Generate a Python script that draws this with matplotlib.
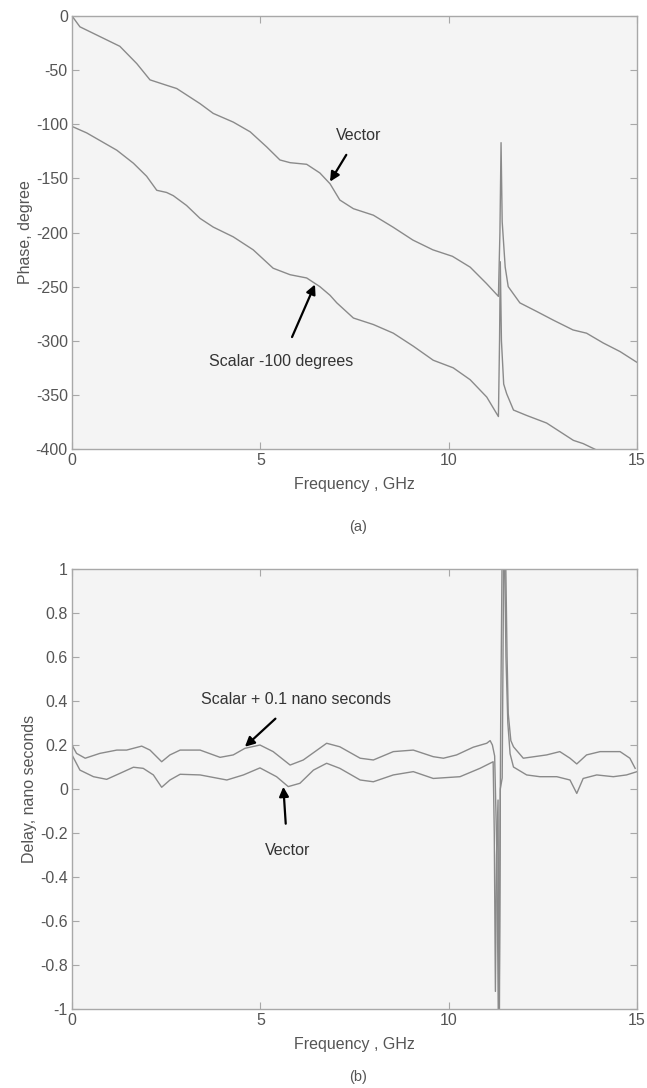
import matplotlib
matplotlib.use("Agg")
import matplotlib.pyplot as plt

# ---------------- data (a) phase ----------------
vec_f = [0, 0.21, 0.74, 1.27, 1.72, 2.07, 2.51, 2.78, 3.40, 3.75, 4.28, 4.73, 5.17, 5.52, 5.79,
         6.23, 6.58, 6.85, 7.11, 7.47, 8.0, 8.52, 9.05, 9.58, 10.1, 10.57, 11.0, 11.32, 11.36,
         11.39, 11.42, 11.5, 11.58, 11.89, 12.34, 12.78, 13.3, 13.66, 14.1, 14.55, 15.0]
vec_ph = [0, -10, -19, -28, -44, -59, -64, -67, -81, -90, -98, -107, -121, -133, -135.5,
          -137, -145, -155, -170, -178, -184, -195, -207, -216, -222, -232, -247, -259, -200,
          -117, -190, -232, -250, -265, -273, -281, -290, -293, -302, -310, -320]

sc_f = [0, 0.39, 0.74, 1.19, 1.63, 1.98, 2.25, 2.51, 2.69, 3.04, 3.40, 3.75, 4.28, 4.81, 5.34,
        5.79, 6.23, 6.58, 6.85, 7.03, 7.47, 8.0, 8.53, 9.06, 9.59, 10.12, 10.57, 11.01, 11.32,
        11.35, 11.37, 11.40, 11.46, 11.54, 11.72, 12.07, 12.6, 13.31, 13.57, 13.93, 14.5, 15.0]
sc_ph = [-102, -108, -115, -124, -136, -148, -161, -163, -166, -175, -187, -195, -204, -216, -233,
         -239, -242, -250, -258, -265, -279, -285, -293, -305, -318, -325, -336, -352, -370,
         -300, -227, -300, -340, -349, -364, -369, -376, -392, -395, -401, -412, -422]

# ---------------- data (b) delay ----------------
bv_f = [0, 0.21, 0.57, 0.92, 1.27, 1.63, 1.89, 2.16, 2.38, 2.6, 2.87, 3.4, 4.11, 4.55, 4.99,
        5.43, 5.74, 6.05, 6.41, 6.76, 7.11, 7.65, 8.0, 8.53, 9.06, 9.59, 10.3, 10.83, 11.18,
        11.21, 11.24, 11.27, 11.31, 11.34, 11.37, 11.42, 11.47, 11.52, 11.57, 11.63, 11.72,
        12.07, 12.42, 12.87, 13.22, 13.4, 13.57, 13.93, 14.37, 14.72, 15.0]
bv_d = [0.155, 0.086, 0.056, 0.044, 0.071, 0.099, 0.094, 0.064, 0.008, 0.041, 0.067, 0.064,
        0.041, 0.064, 0.096, 0.056, 0.011, 0.026, 0.086, 0.117, 0.094, 0.041, 0.033, 0.064,
        0.079, 0.048, 0.056, 0.094, 0.124, -0.2, -0.92, -0.3, -0.05, -1.3, 0.0, 0.05, 1.3,
        0.6, 0.3, 0.16, 0.10, 0.064, 0.056, 0.056, 0.041, -0.02, 0.048, 0.064, 0.056, 0.064, 0.079]

bs_f = [0, 0.12, 0.35, 0.74, 1.19, 1.45, 1.85, 2.07, 2.38, 2.6, 2.87, 3.4, 3.93, 4.28, 4.59,
        4.99, 5.34, 5.79, 6.14, 6.76, 7.11, 7.65, 8.0, 8.53, 9.06, 9.59, 9.86, 10.21, 10.65,
        11.01, 11.1, 11.16, 11.22, 11.28, 11.33, 11.38, 11.43, 11.5, 11.55, 11.58, 11.65,
        11.72, 11.98, 12.6, 12.95, 13.22, 13.4, 13.66, 14.02, 14.55, 14.81, 14.95]
bs_d = [0.20, 0.162, 0.14, 0.162, 0.177, 0.177, 0.195, 0.177, 0.124, 0.155, 0.177, 0.177,
        0.144, 0.155, 0.185, 0.2, 0.17, 0.109, 0.132, 0.208, 0.192, 0.14, 0.132, 0.17, 0.177,
        0.147, 0.14, 0.155, 0.19, 0.208, 0.22, 0.2, 0.15, -0.3, -1.3, 0.3, 1.3, 1.2, 0.6,
        0.344, 0.22, 0.192, 0.14, 0.155, 0.17, 0.14, 0.114, 0.155, 0.17, 0.17, 0.14, 0.094]

x_ticks = [0, 5, 10, 15]
ph_ticks = [0, -50, -100, -150, -200, -250, -300, -350, -400]
d_ticks = [1, 0.8, 0.6, 0.4, 0.2, 0, -0.2, -0.4, -0.6, -0.8, -1]
d_tick_labels = ['1', '0.8', '0.6', '0.4', '0.2', '0', '-0.2', '-0.4', '-0.6', '-0.8', '-1']

plt.rcParams['font.family'] = ['Liberation Sans', 'DejaVu Sans']
plt.rcParams['axes.unicode_minus'] = False

LINE = '#8a8a8a'
SPINE = '#a8a8a8'
TICKC = '#555555'
BG = '#f4f4f4'
FS = 11.5

fig = plt.figure(figsize=(6.47, 10.88), dpi=100)
ax1 = fig.add_axes([0.1113, 0.5873, 0.8733, 0.398])
ax2 = fig.add_axes([0.1113, 0.0726, 0.8733, 0.4044])


def style(ax):
    ax.set_facecolor(BG)
    for s in ax.spines.values():
        s.set_color(SPINE)
        s.set_linewidth(1.0)
    ax.tick_params(direction='in', length=5, width=0.8, color=SPINE,
                   labelcolor=TICKC, labelsize=FS, top=True, right=True, pad=3)
    ax.set_xlim(0, 15)
    ax.set_xticks(x_ticks)


style(ax1)
ax1.plot(vec_f, vec_ph, color=LINE, lw=1.0)
ax1.plot(sc_f, sc_ph, color=LINE, lw=1.0)
ax1.set_ylim(-400, 0)
ax1.set_yticks(ph_ticks)
ax1.set_xlabel('Frequency , GHz', fontsize=FS, color=TICKC, labelpad=6)
ax1.set_ylabel('Phase, degree', fontsize=FS, color=TICKC, labelpad=2)
ax1.annotate('Vector', xy=(6.85, -153), xytext=(7.6, -110), fontsize=FS, color='#333333',
             ha='center', va='center',
             arrowprops=dict(arrowstyle='-|>', color='black', lw=1.6, mutation_scale=14,
                             shrinkA=8, shrinkB=0))
ax1.annotate('Scalar -100 degrees', xy=(6.45, -248), xytext=(5.56, -319), fontsize=FS,
             color='#333333', ha='center', va='center',
             arrowprops=dict(arrowstyle='-|>', color='black', lw=1.6, mutation_scale=14,
                             shrinkA=11, shrinkB=0))

style(ax2)
ax2.plot(bv_f, bv_d, color=LINE, lw=1.0)
ax2.plot(bs_f, bs_d, color=LINE, lw=1.0)
ax2.set_ylim(-1, 1)
ax2.set_yticks(d_ticks)
ax2.set_yticklabels(d_tick_labels)
ax2.set_xlabel('Frequency , GHz', fontsize=FS, color=TICKC, labelpad=6)
ax2.set_ylabel('Delay, nano seconds', fontsize=FS, color=TICKC, labelpad=2)
ax2.annotate('Scalar + 0.1 nano seconds', xy=(4.59, 0.192), xytext=(5.94, 0.405), fontsize=FS,
             color='#333333', ha='center', va='center',
             arrowprops=dict(arrowstyle='-|>', color='black', lw=1.6, mutation_scale=14,
                             shrinkA=9, shrinkB=0))
ax2.annotate('Vector', xy=(5.61, 0.01), xytext=(5.72, -0.28), fontsize=FS, color='#333333',
             ha='center', va='center',
             arrowprops=dict(arrowstyle='-|>', color='black', lw=1.6, mutation_scale=14,
                             shrinkA=12, shrinkB=0))

fig.text(0.5538, 1 - 527 / 1088, '(a)', ha='center', va='center', fontsize=FS - 1, color=TICKC)
fig.text(0.5538, 1 - 1077 / 1088, '(b)', ha='center', va='center', fontsize=FS - 1, color=TICKC)

fig.savefig('out.png', dpi=100, facecolor='white')
